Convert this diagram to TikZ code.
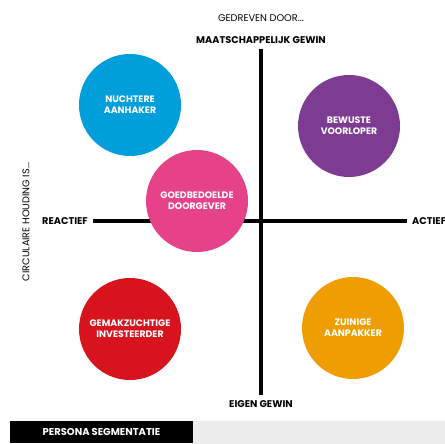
\documentclass[tikz,border=0pt]{standalone}
\usepackage{fontspec}
\setmainfont{Poppins}
\usetikzlibrary{positioning}

\definecolor{aanhakerblauw}{RGB}{0,158,219}
\definecolor{doorgeverroze}{RGB}{230,66,137}
\definecolor{voorloperpaars}{RGB}{125,60,146}
\definecolor{investeerderrood}{RGB}{215,20,30}
\definecolor{aanpakkeroranje}{RGB}{238,158,0}
\definecolor{balkgrijs}{RGB}{236,236,236}

\begin{document}
\begin{tikzpicture}[x=1bp,y=-1bp,
  persona/.style={circle,minimum size=102bp,inner sep=0pt,align=center,
    text=white,font=\bfseries\fontsize{9.4}{11}\selectfont},
  axis label/.style={inner sep=1bp,font=\bfseries\fontsize{9.8}{11}\selectfont},
  small label/.style={inner sep=1bp,font=\fontsize{9.8}{11}\selectfont},
  axis/.style={line width=4bp,shorten >=4bp,shorten <=4bp}]

  \useasboundingbox (0,0) rectangle (445,444);

  % assen
  \node[small label] (gedreven) at (261,18) {GEDREVEN DOOR...};
  \node[axis label] (maatsch) at (261,40) {MAATSCHAPPELIJK GEWIN};
  \node[axis label] (eigen) at (261,404) {EIGEN GEWIN};
  \node[axis label,anchor=east] (reactief) at (89,221) {REACTIEF};
  \node[axis label,anchor=west] (actief) at (411,221) {ACTIEF};
  \node[small label,rotate=90] (houding) at (26,222) {CIRCULAIRE HOUDING IS...};

  \draw[axis] (maatsch) -- (eigen);
  \draw[axis] (reactief) -- (actief);

  % personas
  \node[persona,fill=aanhakerblauw] (aanhaker) at (130,105) {NUCHTERE\\AANHAKER};
  \node[persona,fill=voorloperpaars] (voorloper) at (349,126) {BEWUSTE\\VOORLOPER};
  \node[persona,fill=doorgeverroze] (doorgever) at (197,201) {GOEDBEDOELDE\\DOORGEVER};
  \node[persona,fill=investeerderrood] (investeerder) at (130,329) {GEMAKZUCHTIGE\\INVESTEERDER};
  \node[persona,fill=aanpakkeroranje] (aanpakker) at (353,328) {ZUINIGE\\AANPAKKER};

  % balk onderaan
  \fill[balkgrijs] (193,421) rectangle (445,444);
  \node[fill=black,text=white,minimum width=183bp,minimum height=22bp,inner sep=0pt,
    font=\bfseries\fontsize{10}{11}\selectfont] (titel) at (101.5,432) {PERSONA SEGMENTATIE};
\end{tikzpicture}
\end{document}
